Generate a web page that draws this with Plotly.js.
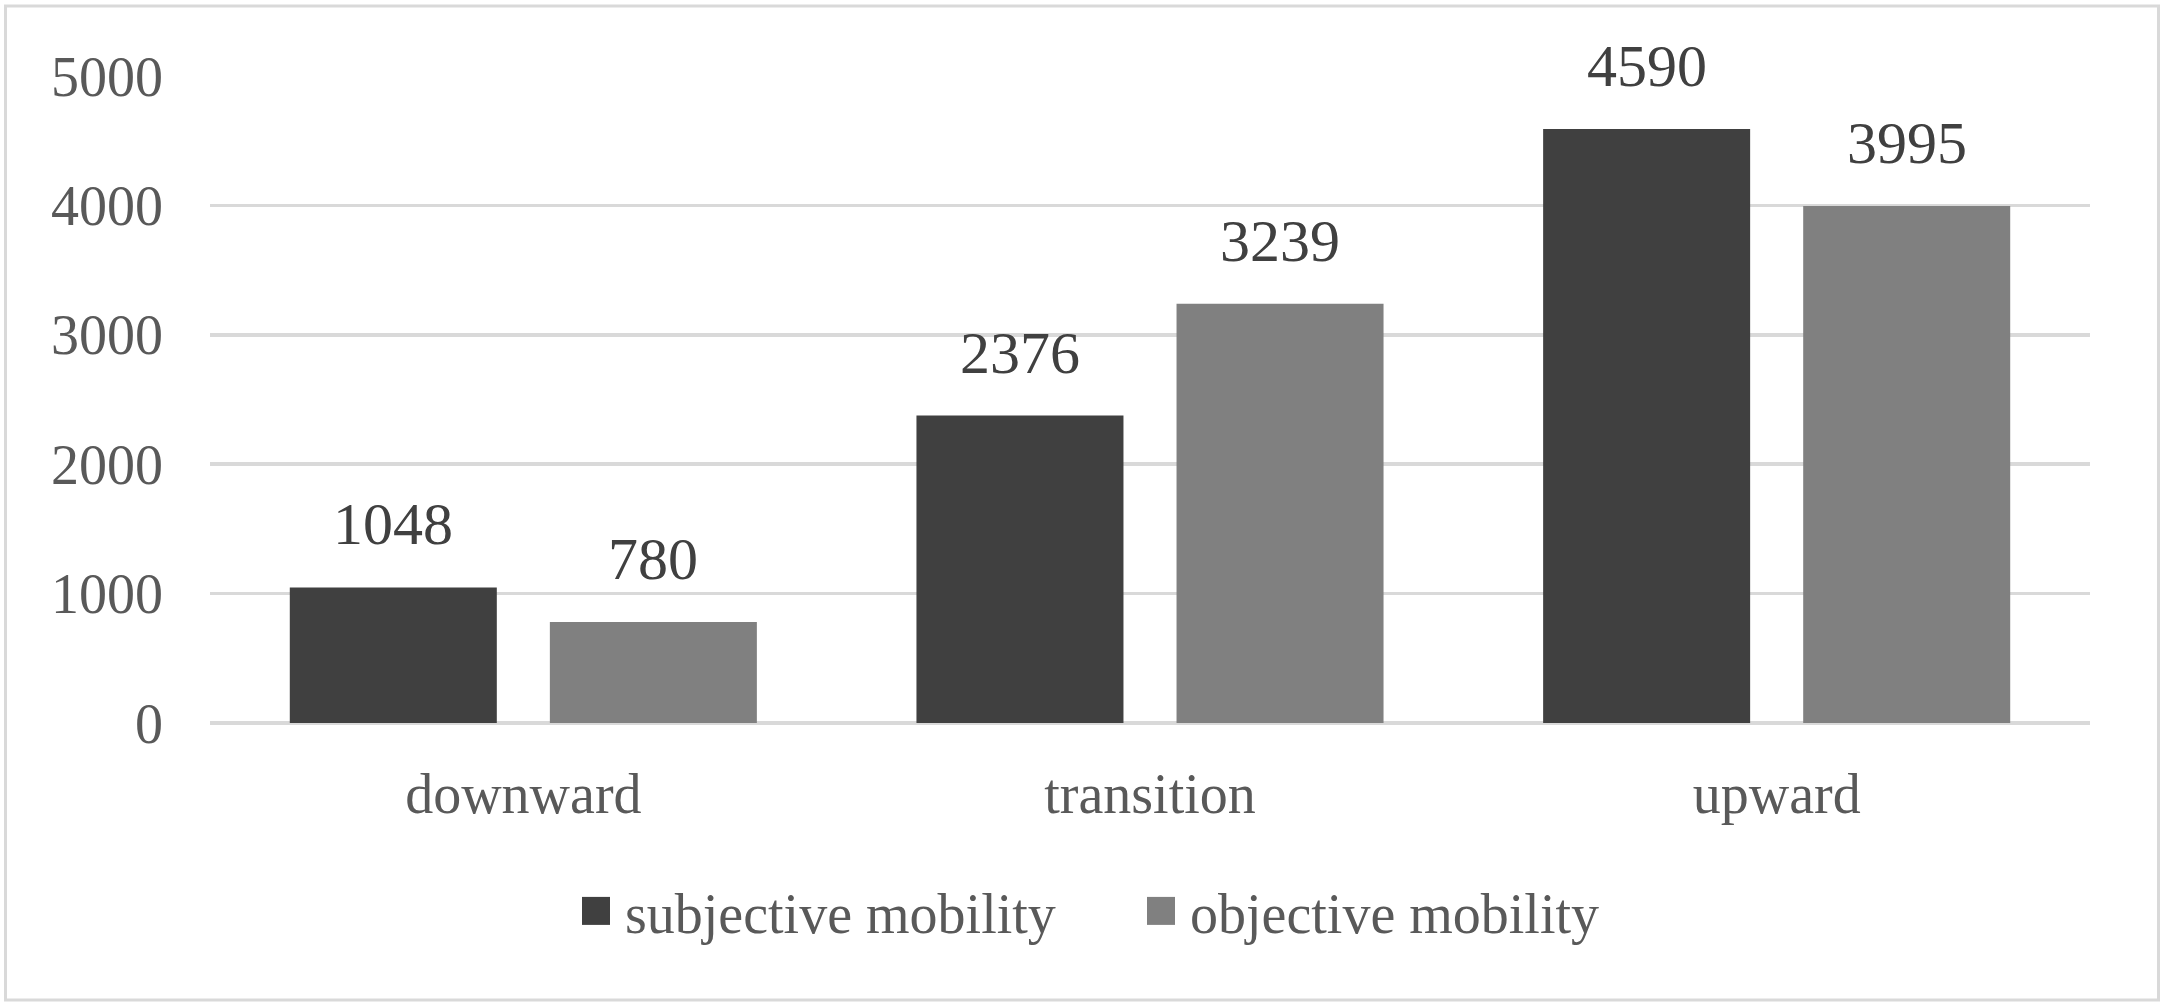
<!DOCTYPE html>
<html>
<head>
<meta charset="utf-8">
<script src="https://cdn.plot.ly/plotly-3.0.1.min.js"></script>
<style>
  html, body { margin: 0; padding: 0; background: #ffffff; }
  #chart { width: 2167px; height: 1007px; }
</style>
</head>
<body>
<div id="chart"></div>
<script>
// ---- data ----
const categories = ["downward", "transition", "upward"];
const seriesNames = ["subjective mobility", "objective mobility"];
const subjectiveValues = [1048, 2376, 4590];
const objectiveValues = [780, 3239, 3995];
const yTickValues = [0, 1000, 2000, 3000, 4000, 5000];
const yTickLabels = ["0", "1000", "2000", "3000", "4000", "5000"];

// ---- style ----
const FONT = '"Liberation Serif", "Times New Roman", serif';
const colors = ["#404040", "#808080"];
const W = 2167, H = 1007;
const margin = { l: 210, r: 77, t: 76, b: 284 };
const plotW = W - margin.l - margin.r;
const plotH = H - margin.t - margin.b;
const bargap = 0.17;

const seriesValues = [subjectiveValues, objectiveValues];

const traces = seriesValues.map((vals, i) => ({
  type: "bar",
  name: seriesNames[i],
  x: categories,
  y: vals,
  marker: { color: colors[i], line: { width: 0 } },
  hoverinfo: "skip"
}));

// value labels above each bar (offset to each bar's slot centre)
const slotPx = plotW / categories.length * (1 - bargap) / seriesValues.length;
const annotations = [];
seriesValues.forEach((vals, i) => {
  const shift = (i - (seriesValues.length - 1) / 2) * slotPx;
  vals.forEach((v, j) => {
    annotations.push({
      x: categories[j], y: v, xref: "x", yref: "y",
      text: String(v), showarrow: false,
      xanchor: "center", yanchor: "bottom",
      xshift: shift, yshift: 28,
      font: { family: FONT, size: 60, color: "#404040" }
    });
  });
});

// paper coords for the outer border
const px2x = p => (p - margin.l) / plotW;
const px2y = p => (H - margin.b - p) / plotH;

const layout = {
  width: W, height: H,
  margin: margin,
  paper_bgcolor: "#ffffff",
  plot_bgcolor: "#ffffff",
  barmode: "group",
  bargap: bargap,
  bargroupgap: 0.204,
  font: { family: FONT, size: 56, color: "#595959" },
  xaxis: {
    type: "category",
    showgrid: false, zeroline: false, showline: false,
    ticks: "",
    ticklabelstandoff: 33,
    tickfont: { family: FONT, size: 56, color: "#595959" },
    fixedrange: true
  },
  yaxis: {
    range: [0, 5000],
    tickvals: yTickValues,
    ticktext: yTickLabels,
    showgrid: true, gridcolor: "#d9d9d9", gridwidth: 3.5,
    zeroline: true, zerolinecolor: "#d9d9d9", zerolinewidth: 4,
    showline: false, ticks: "",
    ticklabelstandoff: 46,
    tickfont: { family: FONT, size: 56, color: "#595959" },
    fixedrange: true
  },
  showlegend: true,
  legend: {
    orientation: "h",
    x: px2x(1150), xanchor: "center",
    y: px2y(911), yanchor: "middle",
    font: { family: FONT, size: 56, color: "#595959" },
    entrywidth: 520, entrywidthmode: "pixels",
    bgcolor: "rgba(0,0,0,0)"
  },
  annotations: annotations,
  shapes: [{
    type: "rect", xref: "paper", yref: "paper", layer: "below",
    x0: px2x(5.5), x1: px2x(2158.5), y0: px2y(1000), y1: px2y(6),
    line: { color: "#d9d9d9", width: 3 }, fillcolor: "rgba(0,0,0,0)"
  }]
};

Plotly.newPlot("chart", traces, layout, { displayModeBar: false, staticPlot: true }).then(() => {
  // enlarge the legend swatches to match the reference
  document.querySelectorAll("#chart .legend [clip-path]").forEach(el => el.removeAttribute("clip-path"));
  document.querySelectorAll("#chart .legendpoints path").forEach(p => {
    p.setAttribute("d", "M14,14H-14V-14H14Z");
    p.setAttribute("transform", "translate(11,0)");
  });
});
</script>
</body>
</html>
